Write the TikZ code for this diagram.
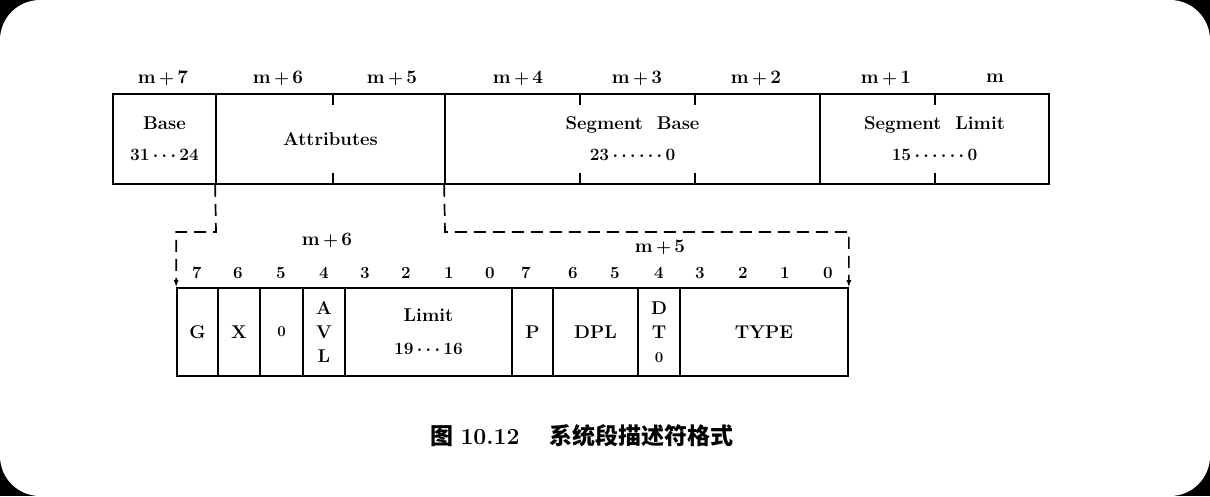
\documentclass[tikz,border=0pt]{standalone}
\usepackage{fontspec}
\newfontfamily\cjk{Noto Sans CJK SC}
\usetikzlibrary{arrows.meta}
\tikzset{
  cell/.style={draw, line width=1.7pt, inner sep=0pt, align=center, font=\bfseries\mathversion{bold}\fontsize{18.5}{24}\selectfont},
  topcell/.style={cell, minimum height=90, font=\bfseries\mathversion{bold}\fontsize{18.5}{31}\selectfont},
  lbl/.style={inner sep=0pt, font=\bfseries\mathversion{bold}\fontsize{19}{22}\selectfont},
  bitlbl/.style={inner sep=0pt, font=\bfseries\fontsize{17}{18}\selectfont},
  tick/.style={line width=1.4pt},
  dashline/.style={line width=1.7pt, dash pattern=on 12pt off 7pt, -{Latex[length=7pt,width=5pt]}}
}
\begin{document}
\begin{tikzpicture}[x=1pt,y=-1pt]
\useasboundingbox (0,0) rectangle (1210,496);
\fill[black] (0,0) rectangle (1210,496);
\fill[white, rounded corners=40pt] (0,0) rectangle (1210,496);
% top row
\node[topcell, minimum width=103] (base) at (164.5,139) {Base\\$31\cdots24$};
\node[topcell, minimum width=229] (attr) at (330.5,139) {Attributes};
\node[topcell, minimum width=375] (sbase) at (632.5,139) {Segment\ \ Base\\$23\cdots\cdots0$};
\node[topcell, minimum width=229] (slim) at (934.5,139) {Segment\ \ Limit\\$15\cdots\cdots0$};
% ticks
\foreach \x in {333,580,695,935}{
  \draw[tick] (\x,94) -- (\x,105);
  \draw[tick] (\x,184) -- (\x,173);
}
% byte labels
\foreach \x/\t in {163/7,278/6,392/5,518/4,637/3,756/2,886/1}{
  \node[lbl] (ml\t) at (\x,78) {m$\,+\,$\t};
}
\node[lbl] (m0) at (995,78) {m};
% bottom row
\node[cell, minimum width=41, minimum height=88] (g) at (197.5,332) {G};
\node[cell, minimum width=42, minimum height=88] (xx) at (239,332) {X};
\node[cell, minimum width=43, minimum height=88, font=\bfseries\fontsize{15}{18}\selectfont] (z) at (281.5,332) {0};
\node[cell, minimum width=42, minimum height=88] (avl) at (324,332) {A\\V\\L};
\node[cell, minimum width=167, minimum height=88, font=\bfseries\mathversion{bold}\fontsize{18.5}{33}\selectfont] (lim) at (428.5,332) {Limit\\$19\cdots16$};
\node[cell, minimum width=41, minimum height=88] (p) at (532.5,332) {P};
\node[cell, minimum width=85, minimum height=88] (dpl) at (595.5,332) {DPL};
\node[cell, minimum width=42, minimum height=88] (dt) at (659,332) {D\\T\\{\fontsize{15}{18}\selectfont 0}};
\node[cell, minimum width=168, minimum height=88] (type) at (764,332) {TYPE};
% bit labels
\foreach \x/\t [count=\i] in {197/7,238/6,281/5,324/4,365/3,406/2,449/1,490/0,526/7,573/6,615/5,659/4,700/3,743/2,785/1,828/0}{
  \node[bitlbl] (b\i) at (\x,273) {\t};
}
\node[lbl] (m6) at (327,240) {m$\,+\,$6};
\node[lbl] (m5) at (660,247) {m$\,+\,$5};
% dashed connectors
\coordinate (c1) at (216,232);
\coordinate (c2) at (445,232);
\draw[dashline] (attr.south west) -- (c1) -| (g.north west);
\draw[dashline] (sbase.south west) -- (c2) -| (type.north east);
% caption
\node[inner sep=0pt, font=\fontsize{23}{26}\selectfont] (cap) at (582,436) {{\cjk\bfseries 图}\ \textbf{10.12}\quad\ {\cjk\bfseries 系统段描述符格式}};
\end{tikzpicture}
\end{document}
